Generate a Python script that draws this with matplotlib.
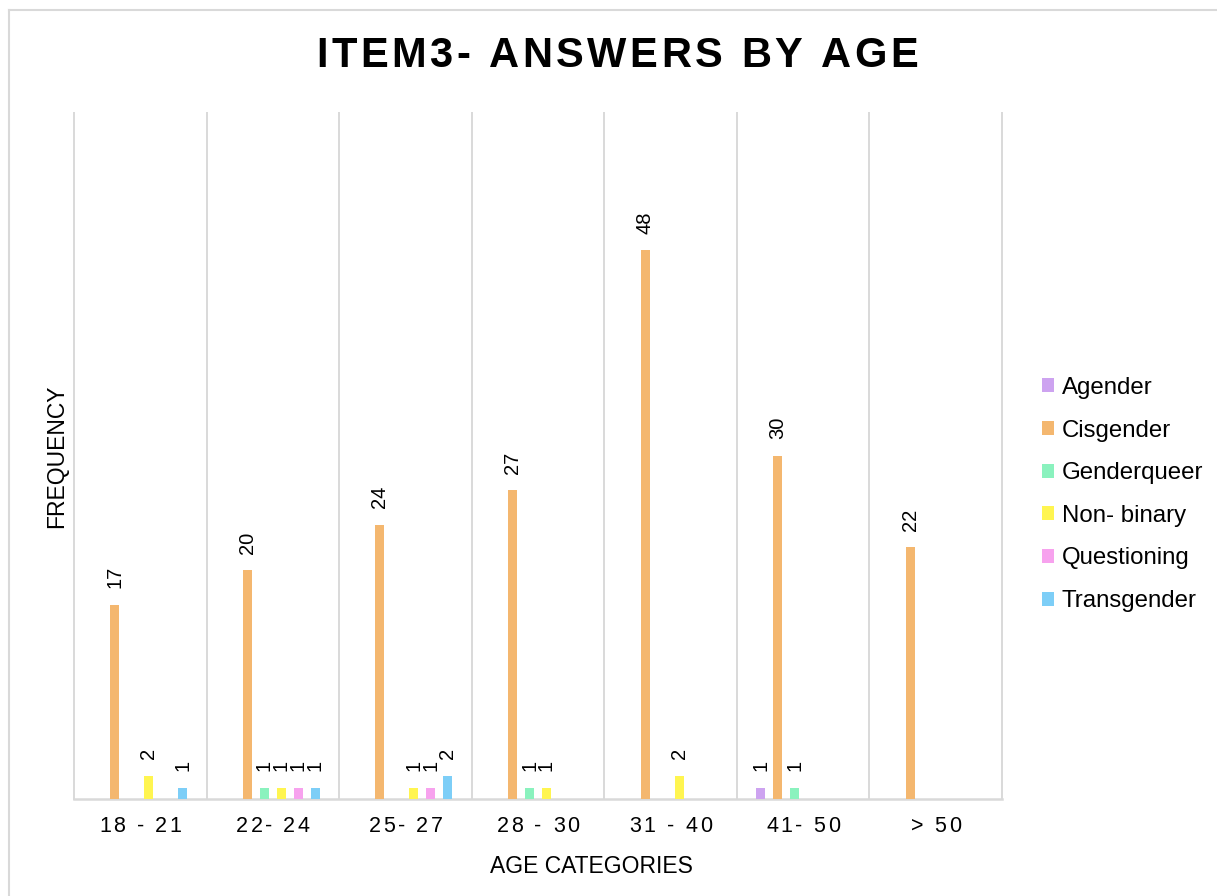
import matplotlib
matplotlib.use("Agg")
import matplotlib.pyplot as plt
import matplotlib.transforms as mtransforms
from matplotlib.font_manager import FontProperties, findfont, get_font
from matplotlib.patches import Patch
from matplotlib.lines import Line2D

# ---- data -------------------------------------------------------------
age_groups = ["18 - 21", "22- 24", "25- 27", "28 - 30", "31 - 40", "41- 50", "> 50"]
identities = ["Agender", "Cisgender", "Genderqueer", "Non- binary", "Questioning", "Transgender"]
agender     = [0, 0, 0, 0, 0, 1, 0]
cisgender   = [17, 20, 24, 27, 48, 30, 22]
genderqueer = [0, 1, 0, 1, 0, 1, 0]
non_binary  = [2, 1, 1, 1, 2, 0, 0]
questioning = [0, 1, 1, 0, 0, 0, 0]
transgender = [1, 1, 2, 0, 0, 0, 0]
series = [agender, cisgender, genderqueer, non_binary, questioning, transgender]
colors = ["#CDA3F0", "#F4B76F", "#8AF2BE", "#FFF550", "#F7A2EE", "#7DCEF7"]

title = "ITEM3- ANSWERS BY AGE"
x_label = "AGE CATEGORIES"
y_label = "FREQUENCY"

FONT = "Liberation Sans"
GRID = "#d9d9d9"

fig = plt.figure(figsize=(12.17, 8.96), dpi=100)
W, H = 1217, 896
ax = fig.add_axes([74 / W, 1 - 799 / H, (1002 - 74) / W, (799 - 113) / H])


def advance_px(ch, fp):
    font = get_font(findfont(fp))
    font.set_size(fp.get_size_in_points(), fig.dpi)
    g = font.load_char(ord(ch))
    return g.linearHoriAdvance / 65536.0


def spaced_text(x, y, s, transform, fp, spacing, dy=0.0, va="center", color="black"):
    """Draw a string centred at (x, y) with extra letter spacing (pixels)."""
    widths = [advance_px(c, fp) for c in s]
    total = sum(widths) + spacing * (len(s) - 1)
    pos = -total / 2.0
    for c, w in zip(s, widths):
        tr = mtransforms.offset_copy(transform, fig=fig, x=pos, y=dy, units="dots")
        fig.text(x, y, c, transform=tr, ha="left", va=va, fontproperties=fp,
                 color=color)
        pos += w + spacing


# ---- bars -------------------------------------------------------------
slot = 0.128
bar_w = 0.068
n = len(series)
for i, (vals, col) in enumerate(zip(series, colors)):
    xs = [k + (i - (n - 1) / 2) * slot for k in range(len(age_groups))]
    ax.bar(xs, vals, width=bar_w, color=col, zorder=3)
    for x, v in zip(xs, vals):
        if v > 0:
            ax.annotate(str(v), (x, v), xytext=(0, 12), textcoords="offset points",
                        rotation=90, ha="center", va="bottom", fontsize=14.5,
                        family=FONT, color="black")

ax.set_xlim(-0.5, len(age_groups) - 0.5)
ax.set_ylim(0, 60)

# category separators
for b in range(len(age_groups) + 1):
    ax.axvline(b - 0.5, color=GRID, lw=1.4, zorder=1, clip_on=False)

for s in ["top", "right", "left"]:
    ax.spines[s].set_visible(False)
ax.spines["bottom"].set_color(GRID)
ax.spines["bottom"].set_linewidth(1.8)
ax.set_yticks([])
ax.set_xticks([])

# category labels with letter spacing
tick_fp = FontProperties(family=FONT, size=15.5)
for k, lab in enumerate(age_groups):
    spaced_text(k, 0, lab, ax.get_xaxis_transform(), tick_fp, 2.6, dy=-27)

# axis titles
fig.text(591 / W, 1 - 866 / H, x_label, ha="center", va="center",
         fontsize=16.5, family=FONT)
fig.text(57 / W, 1 - 456 / H, y_label, ha="center", va="center", rotation=90,
         fontsize=16.5, family=FONT)

# chart title with letter spacing
title_fp = FontProperties(family=FONT, size=30, weight="bold")
spaced_text(617 / W, 1 - 56 / H, title, fig.transFigure, title_fp, 3.5)

# legend
handles = [Patch(facecolor=c, edgecolor="none") for c in colors]
fig.legend(handles, identities, loc="center left",
           bbox_to_anchor=(1042 / W, 1 - 494.5 / H), frameon=False,
           prop=FontProperties(family=FONT, size=17.3),
           handlelength=0.52, handleheight=0.52, handletextpad=0.3,
           labelspacing=0.86, borderpad=0, borderaxespad=0)

# chart frame
fig.add_artist(Line2D([9 / W, 9 / W], [0, 1 - 10 / H], transform=fig.transFigure,
                      color=GRID, lw=1.5))
fig.add_artist(Line2D([9 / W, 1], [1 - 10 / H, 1 - 10 / H], transform=fig.transFigure,
                      color=GRID, lw=1.5))

fig.savefig("out.png", dpi=100)
